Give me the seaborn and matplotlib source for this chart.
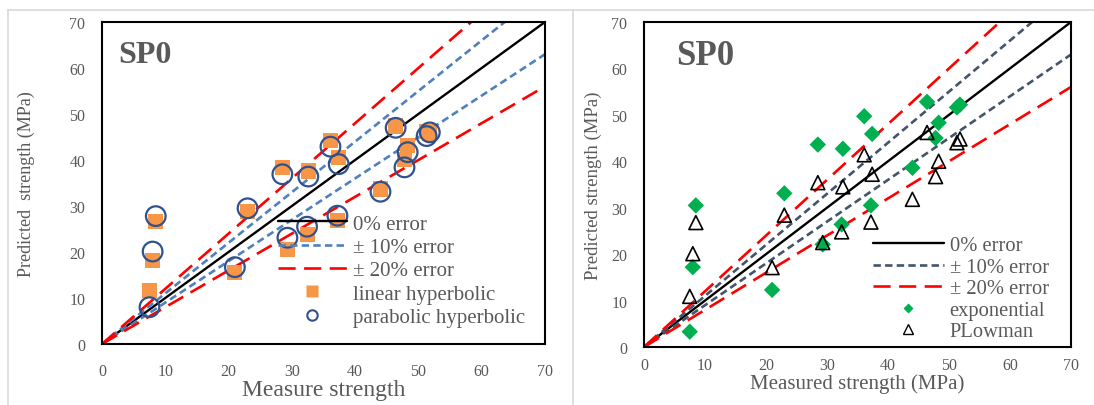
import matplotlib
matplotlib.use("Agg")
import matplotlib.pyplot as plt
from matplotlib.lines import Line2D
import seaborn as sns

# Measured strength (MPa), shared by both panels
measured = [7.5, 8.0, 8.5, 21.0, 23.0, 28.5, 29.3, 32.4, 32.6, 36.1,
            37.2, 37.4, 44.0, 46.4, 47.8, 48.3, 51.3, 51.8]

# Left panel predictions (MPa)
linear_hyperbolic = [11.6, 18.1, 26.7, 15.6, 28.8, 38.4, 20.6, 23.9, 37.6, 44.3,
                     26.8, 40.6, 33.7, 47.4, 40.2, 43.1, 46.2, 45.8]
parabolic_hyperbolic = [8.0, 20.1, 27.8, 16.7, 29.5, 36.9, 23.1, 25.5, 36.4, 42.9,
                        27.9, 39.1, 33.1, 47.0, 38.4, 41.7, 45.2, 46.0]

# Right panel predictions (MPa)
exponential = [3.3, 17.2, 30.5, 12.3, 33.1, 43.6, 22.1, 26.4, 42.7, 49.7,
               30.5, 45.9, 38.6, 52.8, 45.0, 48.3, 51.6, 52.2]
plowman = [10.9, 20.1, 26.8, 17.1, 28.4, 35.4, 22.5, 24.8, 34.5, 41.4,
           26.9, 37.2, 31.8, 46.2, 36.7, 40.0, 44.0, 44.8]

ticks = [0, 10, 20, 30, 40, 50, 60, 70]
ref_x = [0, 70]

sns.set_theme(style="white")
plt.rcParams["font.family"] = ["Liberation Serif", "DejaVu Serif"]

GRAY = "#595959"
RED = "#FF0000"
RED_DASH = (6.5, 3.2)
SHORT_DASH = (2.8, 1.6)
W, H = 1094, 406
fig = plt.figure(figsize=(W / 100, H / 100), dpi=100)
fig.patch.set_facecolor("white")

# light panel frames around each chart
frame_kw = dict(color="#d9d9d9", lw=1.2, transform=fig.transFigure)
fig.add_artist(Line2D([8 / W, 1], [1 - 11 / H, 1 - 11 / H], **frame_kw))
fig.add_artist(Line2D([8 / W, 8 / W], [0, 1 - 11 / H], **frame_kw))
fig.add_artist(Line2D([573 / W, 573 / W], [0, 1 - 11 / H], **frame_kw))


def px_axes(left, right, top, bottom):
    return fig.add_axes([left / W, 1 - bottom / H, (right - left) / W, (bottom - top) / H])


ax1 = px_axes(102, 545, 23, 345)
ax2 = px_axes(644, 1071, 23, 348)


def style_axes(ax, xpad, ypad):
    ax.set_xlim(0, 70)
    ax.set_ylim(0, 70)
    ax.set_xticks(ticks)
    ax.set_yticks(ticks)
    for sp in ax.spines.values():
        sp.set_visible(True)
        sp.set_color("black")
        sp.set_linewidth(1.5)
    ax.tick_params(axis="both", direction="out", length=4, width=1.5, color="black",
                   labelsize=11.5, labelcolor=GRAY)
    ax.tick_params(axis="x", pad=xpad)
    ax.tick_params(axis="y", pad=ypad)


def reference_lines(ax, band_color):
    sns.lineplot(x=ref_x, y=[v * 1.0 for v in ref_x], ax=ax, color="black",
                 linewidth=1.7, zorder=2)
    for k in (1.1, 0.9):
        sns.lineplot(x=ref_x, y=[v * k for v in ref_x], ax=ax, color=band_color,
                     linewidth=1.9, linestyle=(0, SHORT_DASH), zorder=2)
    for k in (1.2, 0.8):
        sns.lineplot(x=ref_x, y=[v * k for v in ref_x], ax=ax, color=RED,
                     linewidth=1.9, linestyle=(0, RED_DASH), zorder=2)


def line_handles(band_color):
    return [
        Line2D([], [], color="black", lw=1.7),
        Line2D([], [], color=band_color, lw=1.9, linestyle=(0, SHORT_DASH)),
        Line2D([], [], color=RED, lw=1.9, linestyle=(0, RED_DASH)),
    ]


# ---------------- left panel ----------------
style_axes(ax1, xpad=10, ypad=8)
BLUE_DASH = "#4F81BD"
reference_lines(ax1, BLUE_DASH)
sns.scatterplot(x=measured, y=linear_hyperbolic, ax=ax1, marker="s", s=118,
                color="#F79646", edgecolor="none", linewidth=0, legend=False, zorder=3)
sns.scatterplot(x=measured, y=parabolic_hyperbolic, ax=ax1, marker="o", s=200,
                facecolor="none", edgecolor="#2F528F", linewidth=1.6, legend=False, zorder=4)
ax1.text(2.5, 61.3, "SP0", fontsize=23, fontweight="bold", color=GRAY, va="baseline")
ax1.set_xlabel("Measure strength", fontsize=17, color=GRAY, va="center")
ax1.xaxis.set_label_coords(0.5, (345 - 391) / 322)
ax1.set_ylabel("Predicted  strength (MPa)", fontsize=13, color=GRAY, va="center")
ax1.yaxis.set_label_coords((26 - 102) / 443, 0.5)

left_handles = line_handles(BLUE_DASH) + [
    Line2D([], [], ls="none", marker="s", ms=8.5, color="#F79646", mec="none"),
    Line2D([], [], ls="none", marker="o", ms=7.5, mfc="none", mec="#2F528F", mew=1.5),
]
left_labels = ["0% error", "± 10% error", "± 20% error", "linear hyperbolic",
               "parabolic hyperbolic"]
leg1 = ax1.legend(left_handles, left_labels, loc="upper left", frameon=False,
                  bbox_to_anchor=((278 - 102) / 443, (345 - 215) / 322),
                  borderpad=0, borderaxespad=0, handlelength=3.3, handletextpad=0.3,
                  labelspacing=0.18, fontsize=15)
for t in leg1.get_texts():
    t.set_color(GRAY)

# ---------------- right panel ----------------
style_axes(ax2, xpad=3, ypad=8)
SLATE = "#44546A"
reference_lines(ax2, SLATE)
sns.scatterplot(x=measured, y=exponential, ax=ax2, marker="D", s=70,
                color="#00B050", edgecolor="none", linewidth=0, legend=False, zorder=3)
sns.scatterplot(x=measured, y=plowman, ax=ax2, marker="^", s=100,
                facecolor="none", edgecolor="black", linewidth=1.2, legend=False, zorder=4)
ax2.text(5.2, 61.0, "SP0", fontsize=25, fontweight="bold", color=GRAY, va="baseline")
ax2.set_xlabel("Measured strength (MPa)", fontsize=15, color=GRAY, va="center")
ax2.xaxis.set_label_coords(0.5, (348 - 384) / 325)
ax2.set_ylabel("Predicted strength (MPa)", fontsize=13.5, color=GRAY, va="center")
ax2.yaxis.set_label_coords((593 - 644) / 427, 0.5)

right_handles = line_handles(SLATE) + [
    Line2D([], [], ls="none", marker="D", ms=5, color="#00B050", mec="none"),
    Line2D([], [], ls="none", marker="^", ms=6.5, mfc="none", mec="black", mew=1.0),
]
right_labels = ["0% error", "± 10% error", "± 20% error", "exponential", "PLowman"]
leg2 = ax2.legend(right_handles, right_labels, loc="upper left", frameon=False,
                  bbox_to_anchor=((873 - 644) / 427, (348 - 237) / 325),
                  borderpad=0, borderaxespad=0, handlelength=3.43, handletextpad=0.3,
                  labelspacing=0.1, fontsize=14.8)
for t in leg2.get_texts():
    t.set_color(GRAY)

fig.savefig("out.png", dpi=100)
